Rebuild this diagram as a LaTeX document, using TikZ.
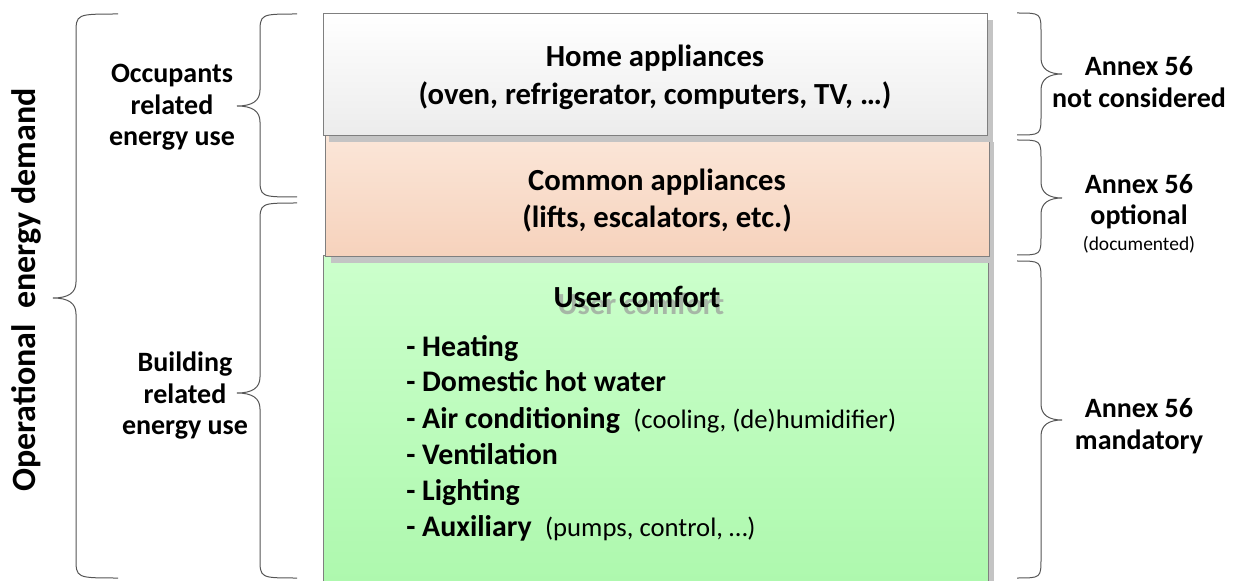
\documentclass[tikz,border=0pt]{standalone}
\usepackage{fontspec}
\setmainfont{Carlito}
\definecolor{bracegray}{HTML}{555555}
\definecolor{boxgray}{HTML}{7F7F7F}
\definecolor{shadowgray}{HTML}{C4C4C4}
\definecolor{homebot}{HTML}{ECECEC}
\definecolor{peachtop}{HTML}{FBE6D8}
\definecolor{peachbot}{HTML}{F6D2BC}
\definecolor{greentop}{HTML}{CCFFCC}
\definecolor{greenbot}{HTML}{ACF8AC}
% font size in pt with a matching line skip
\newcommand\setfs[1]{\fontsize{#1}{1.2\dimexpr#1pt\relax}\selectfont}
% regular-weight remark after a bold list item
\newcommand\remark[1]{{\mdseries\setfs{20}#1}}
% curly brace opening to the right: end x, line x, tip x, top y, tip y, bottom y
\newcommand\bracewest[6]{%
  \draw[bracestyle] (#1,#4) .. controls (#2,#4) .. (#2,#4+20)
    -- (#2,#5-16) .. controls (#2,#5-5) and (#2-8,#5) .. (#3,#5)
    .. controls (#2-8,#5) and (#2,#5+5) .. (#2,#5+16)
    -- (#2,#6-20) .. controls (#2,#6) .. (#1,#6);}
% curly brace opening to the left
\newcommand\braceeast[6]{%
  \draw[bracestyle] (#1,#4) .. controls (#2,#4) .. (#2,#4+20)
    -- (#2,#5-16) .. controls (#2,#5-5) and (#2+8,#5) .. (#3,#5)
    .. controls (#2+8,#5) and (#2,#5+5) .. (#2,#5+16)
    -- (#2,#6-20) .. controls (#2,#6) .. (#1,#6);}
\begin{document}
\begin{tikzpicture}[x=0.75pt,y=-0.75pt,
  bracestyle/.style={draw=bracegray,line width=0.75pt},
  boxline/.style={draw=boxgray,line width=0.75pt},
  txt/.style={anchor=base,inner sep=0pt},
  title/.style={txt,font=\bfseries\setfs{23}},
  item/.style={txt,anchor=base west,font=\bfseries\setfs{22.4}},
  side/.style={txt,font=\bfseries\setfs{21}},
  annex/.style={txt,font=\bfseries\setfs{21}}]
\useasboundingbox (0,0) rectangle (1233,581);

% stacked energy-use boxes, drawn bottom-up so each one's shadow overlaps the next
\begin{scope}
  \clip (0,0) rectangle (1233,581);
  \fill[shadowgray] (329,262) rectangle (994,600);
  \shade[top color=greentop,bottom color=greenbot] (323,256) rectangle (988,600);
  \draw[boxline] (323,600) -- (323,256) -- (988,256) -- (988,600);

  \fill[shadowgray] (331,142) rectangle (994,263);
  \shade[top color=peachtop,bottom color=peachbot] (325,136) rectangle (989,257);
  \draw[boxline] (325,136) rectangle (989,257);

  \fill[shadowgray] (329,20) rectangle (993,142);
  \shade[top color=white,bottom color=homebot] (323,14) rectangle (987,136);
  \draw[boxline] (323,14) rectangle (987,136);
\end{scope}

% box contents
\node[title] (home1) at (655,67) {Home appliances};
\node[title] (home2) at (655,105) {(oven, refrigerator, computers, TV, …)};
\node[title] (comm1) at (657,191) {Common appliances};
\node[title] (comm2) at (657,228) {(lifts, escalators, etc.)};

\node[title,text=black!40,opacity=0.7] (ucshadow) at (641,315) {User comfort};
\node[title] (uc) at (637,308) {User comfort};
\node[item] (i1) at (406,356) {- Heating};
\node[item] (i2) at (406,392) {- Domestic hot water};
\node[item] (i3) at (406,428) {- Air conditioning~~\remark{(cooling, (de)humidifier)}};
\node[item] (i4) at (406,464) {- Ventilation};
\node[item] (i5) at (406,500) {- Lighting};
\node[item] (i6) at (406,536) {- Auxiliary~~\remark{(pumps, control, …)}};

% braces on the left
\bracewest{118}{76}{53}{14}{298}{578}
\bracewest{297}{260}{237}{14}{106}{197}
\bracewest{297}{260}{237}{203}{393}{578}

\node[txt,rotate=90,font=\bfseries\setfs{25.5}] (oed) at (36,290) {Operational~~energy demand};

\node[side] (occ1) at (172,83) {Occupants};
\node[side] (occ2) at (172,115) {related};
\node[side] (occ3) at (172,146) {energy use};
\node[side] (bld1) at (185,371) {Building};
\node[side] (bld2) at (185,403) {related};
\node[side] (bld3) at (185,434) {energy use};

% braces on the right
\braceeast{1017}{1041}{1062}{13}{74}{135}
\braceeast{1017}{1041}{1062}{140}{198}{255}
\braceeast{1017}{1041}{1062}{261}{420}{578}

\node[annex] (a1) at (1139,76) {Annex 56};
\node[annex] (a2) at (1139,108) {not considered};
\node[annex] (b1) at (1139,194) {Annex 56};
\node[annex] (b2) at (1139,225) {optional};
\node[txt,font=\mdseries\setfs{14.6}] (b3) at (1139,251) {(documented)};
\node[annex] (c1) at (1139,417) {Annex 56};
\node[annex] (c2) at (1139,449) {mandatory};
\end{tikzpicture}
\end{document}
